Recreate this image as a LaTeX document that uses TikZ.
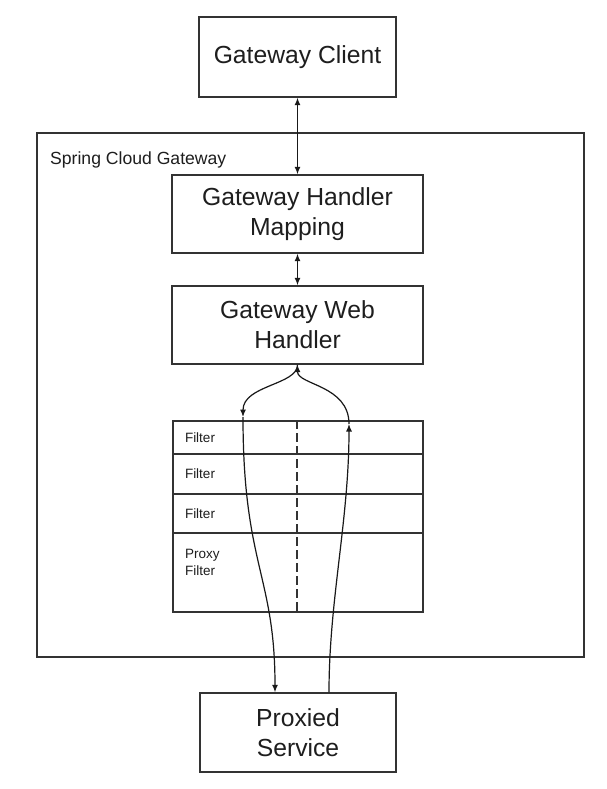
\documentclass[tikz,border=0pt]{standalone}
\usepackage{fontspec}
\setmainfont{Liberation Sans}
\usetikzlibrary{arrows.meta}
\definecolor{ink}{HTML}{333333}
\definecolor{txt}{HTML}{1e1e1e}
\tikzset{
  bigbox/.style={draw=ink, line width=1.4pt, inner sep=0pt, align=center, text=txt,
    font=\fontsize{24.7}{29}\selectfont},
  rowbox/.style={draw=ink, line width=1.2pt, inner xsep=12pt, inner ysep=0pt, minimum width=250pt,
    text width=226pt, align=left, text=txt, font=\fontsize{13.5}{17}\selectfont},
  conn/.style={draw=black!90, line width=1.2pt},
  tip/.style={-{Latex[length=7.5pt,width=6pt]}},
  dtip/.style={{Latex[length=7.5pt,width=6pt]}-{Latex[length=7.5pt,width=6pt]}}
}
\begin{document}
\begin{tikzpicture}[x=1pt,y=-1pt]
\useasboundingbox (0,0) rectangle (607,789);
\fill[white] (0,0) rectangle (607,789);

\node[draw=ink, line width=1.4pt, minimum width=547pt, minimum height=524pt, inner sep=0pt] (outer) at (310.5,395) {};
\node[anchor=base west, inner sep=0pt, text=txt, font=\fontsize{17.6}{20}\selectfont] (sclabel) at (50,164) {Spring Cloud Gateway};

\node[bigbox, minimum width=197pt, minimum height=80pt] (client) at (297.5,57) {Gateway Client};
\node[bigbox, minimum width=251pt, minimum height=78pt] (map) at (297.5,214) {Gateway Handler\\[1pt]Mapping};
\node[bigbox, minimum width=251pt, minimum height=78pt] (web) at (297.5,325) {Gateway Web\\[1pt]Handler};
\node[bigbox, minimum width=196pt, minimum height=79pt] (ps) at (298,732.5) {Proxied\\[1pt]Service};

\node[rowbox, minimum height=33pt] (f1) at (298,437.5) {Filter};
\node[rowbox, minimum height=40pt] (f2) at (298,474) {Filter};
\node[rowbox, minimum height=39pt] (f3) at (298,513.5) {Filter};
\node[rowbox, minimum height=79pt] (f4) at (298,572.5) {};
\node[anchor=north west, inner sep=0pt, align=left, text=txt, font=\fontsize{13.5}{17}\selectfont] (pf) at (185,549.5) {Proxy\\Filter};

\draw[draw=ink, line width=1.1pt, dash pattern=on 9pt off 4pt] ([xshift=-1pt]f1.north) -- ([xshift=-1pt]f4.south);

\draw[conn, dtip] (client.south) -- (map.north);
\draw[conn, dtip] (map.south) -- (web.north);

\coordinate (lm) at (243,417);
\coordinate (rm) at (349,424);

\draw[conn, tip] (web.south) .. controls (297.5,385) and (243,385) .. (lm);
\draw[conn, tip] (lm) .. controls (243,565) and (275,575) .. ([xshift=-23pt]ps.north);
\draw[conn, tip] ([xshift=31pt]ps.north) .. controls (329,600) and (349,520) .. (rm);
\draw[conn, tip] (rm) .. controls (349,385) and (297.5,385) .. (web.south);
\end{tikzpicture}
\end{document}
